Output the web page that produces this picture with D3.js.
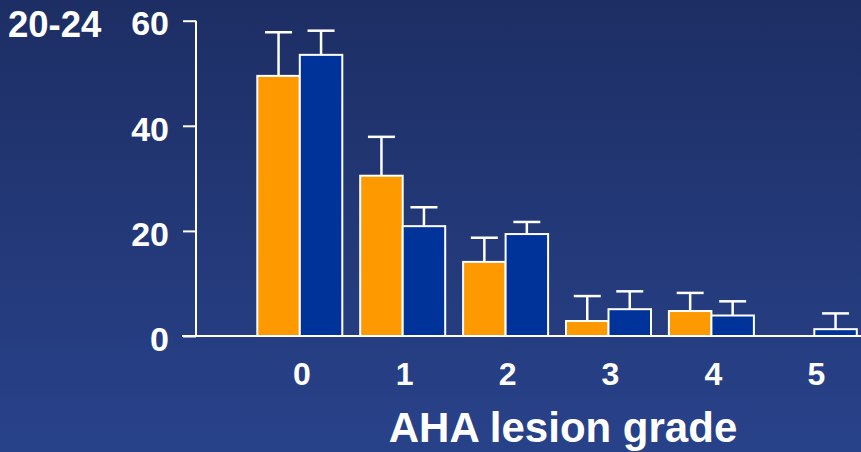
<!DOCTYPE html>
<html>
<head>
<meta charset="utf-8">
<script src="https://cdn.jsdelivr.net/npm/d3@7"></script>
<style>
  html, body { margin: 0; padding: 0; background: #223673; }
  svg { display: block; }
  text { font-family: "Liberation Sans", Arial, Helvetica, sans-serif; font-weight: bold; fill: #ffffff; }
</style>
</head>
<body>
<svg id="chart" width="861" height="452"></svg>
<script>
// Lesion grades on the x axis
const grades = ["0", "1", "2", "3", "4", "5"];
// Two groups compared per grade
const seriesNames = ["groupA", "groupB"];
// Mean percentage per grade
const groupA = [49.5, 30.5, 14.1, 2.85, 4.75, 0];
const groupB = [53.5, 20.9, 19.4, 5.1, 3.9, 1.3];
// Upper error (added on top of the mean)
const groupAErr = [8.3, 7.4, 4.6, 4.75, 3.45, 0];
const groupBErr = [4.6, 3.6, 2.3, 3.4, 2.7, 3.0];
// Y axis ticks
const yTicks = [0, 20, 40, 60];
const ageLabel = "20-24";
const xTitle = "AHA lesion grade";

const svg = d3.select("#chart");
const W = 861, H = 452;

// background gradient
const defs = svg.append("defs");
const grad = defs.append("linearGradient").attr("id", "bg").attr("x1", 0).attr("y1", 0).attr("x2", 0).attr("y2", 1);
grad.append("stop").attr("offset", "0%").attr("stop-color", "#1d2e64");
grad.append("stop").attr("offset", "100%").attr("stop-color", "#28428a");
svg.append("rect").attr("width", W).attr("height", H).attr("fill", "url(#bg)");

const y = d3.scaleLinear().domain([0, 60]).range([336, 20.7]);
const x = d3.scaleBand().domain(grades).range([257.3, 856.8]).paddingInner(0.174).paddingOuter(0);
const sub = d3.scaleBand().domain(seriesNames).range([0, x.bandwidth()]);
const colors = { groupA: "#ff9900", groupB: "#003399" };

const rows = grades.map((g, i) => ({
  grade: g,
  vals: [
    { key: "groupA", v: groupA[i], e: groupAErr[i] },
    { key: "groupB", v: groupB[i], e: groupBErr[i] }
  ]
}));

// y axis line and ticks
const axisX = 196;
const yAxis = d3.axisLeft(y).tickValues(yTicks).tickSize(13).tickFormat(d3.format("d"));
const gy = svg.append("g").attr("transform", `translate(${axisX},0)`).call(yAxis);
gy.select(".domain").attr("stroke", "#ffffff").attr("stroke-width", 2).attr("d", `M0,${y(60)}V${y(0)}`);
gy.selectAll(".tick line").attr("stroke", "#ffffff").attr("stroke-width", 2);
gy.selectAll(".tick text")
  .attr("x", -27).attr("dy", "0.42em")
  .style("font-size", "34px").style("font-family", "'Liberation Sans', Arial, sans-serif")
  .style("font-weight", "bold").attr("fill", "#ffffff");

// bars
const groups = svg.append("g").selectAll("g").data(rows).join("g")
  .attr("transform", d => `translate(${x(d.grade)},0)`);

groups.selectAll("rect").data(d => d.vals.filter(s => s.v > 0)).join("rect")
  .attr("x", s => sub(s.key))
  .attr("width", sub.bandwidth())
  .attr("y", s => y(s.v))
  .attr("height", s => y(0) - y(s.v))
  .attr("fill", s => colors[s.key])
  .attr("stroke", "#ffffff")
  .attr("stroke-width", 2);

// error bars (upper whisker only)
const capW = 27;
const eb = groups.selectAll("g.err").data(d => d.vals.filter(s => s.e > 0)).join("g").attr("class", "err");
eb.append("line")
  .attr("x1", s => sub(s.key) + sub.bandwidth() / 2)
  .attr("x2", s => sub(s.key) + sub.bandwidth() / 2)
  .attr("y1", s => y(s.v))
  .attr("y2", s => y(s.v + s.e))
  .attr("stroke", "#ffffff").attr("stroke-width", 2.5);
eb.append("line")
  .attr("x1", s => sub(s.key) + sub.bandwidth() / 2 - capW / 2)
  .attr("x2", s => sub(s.key) + sub.bandwidth() / 2 + capW / 2)
  .attr("y1", s => y(s.v + s.e))
  .attr("y2", s => y(s.v + s.e))
  .attr("stroke", "#ffffff").attr("stroke-width", 2.5);

// baseline
svg.append("line")
  .attr("x1", 182).attr("x2", W)
  .attr("y1", y(0)).attr("y2", y(0))
  .attr("stroke", "#ffffff").attr("stroke-width", 2);

// x tick labels
svg.append("g").selectAll("text").data(grades).join("text")
  .attr("x", d => x(d) + x.bandwidth() / 2 + 2)
  .attr("y", 384.5)
  .attr("text-anchor", "middle")
  .style("font-size", "32px")
  .text(d => d);

// x axis title
svg.append("text")
  .attr("x", 563).attr("y", 441.5)
  .attr("text-anchor", "middle")
  .style("font-size", "42px")
  .text(xTitle);

// age group label
svg.append("text")
  .attr("x", 8).attr("y", 37)
  .style("font-size", "36.5px")
  .text(ageLabel);
</script>
</body>
</html>
